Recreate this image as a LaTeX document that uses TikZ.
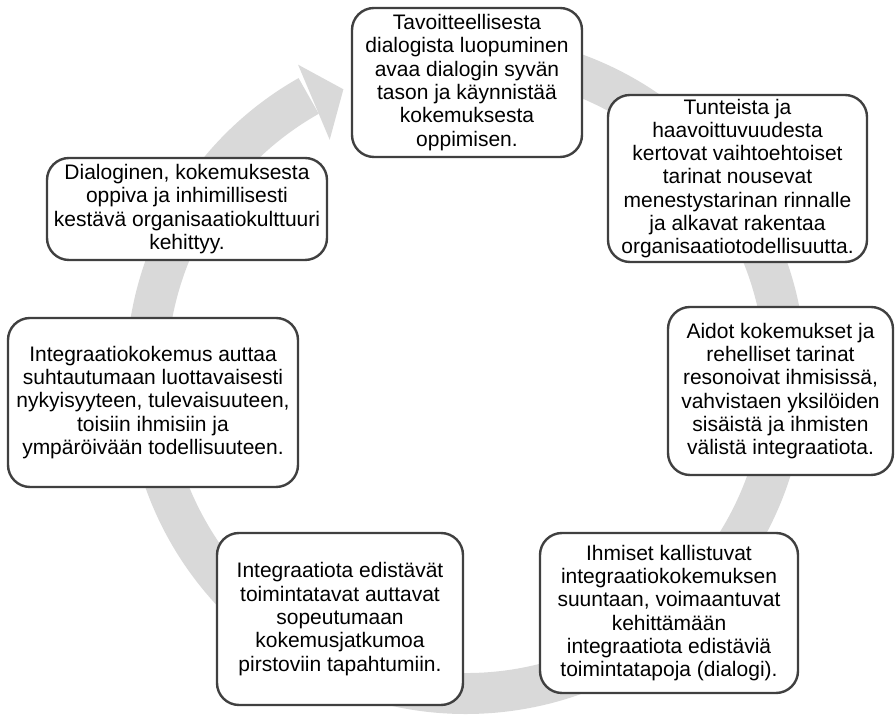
\documentclass[tikz,border=0pt]{standalone}
\usepackage{fontspec}
\setmainfont{Liberation Sans}
\begin{document}
\begin{tikzpicture}[x=1pt,y=1pt,
  stage/.style={draw=boxline, line width=2.4pt, fill=white, rounded corners=22pt,
    align=center, inner sep=0pt, text=black,
    font=\fontsize{21pt}{23.3pt}\selectfont},
]
\definecolor{boxline}{HTML}{404040}
\definecolor{ring}{HTML}{D9D9D9}
\useasboundingbox (0,0) rectangle (895,717);

% circular arrow running clockwise behind the stages
\begin{scope}[shift={(466,343)}]
  \fill[ring] (95:340) arc[start angle=95, end angle=-240.5, radius=340]
      -- (-240.5:299) arc[start angle=-240.5, end angle=95, radius=299] -- cycle;
  \fill[ring] (120.2:271) -- (118.5:352) -- (113.3:310) -- cycle;
\end{scope}

% stages of the cycle
\node[stage, minimum width=230pt, minimum height=149pt] (s1) at (467,634.5)
  {Tavoitteellisesta\\dialogista luopuminen\\avaa dialogin syvän\\tason ja käynnistää\\kokemuksesta\\oppimisen.};
\node[stage, minimum width=259pt, minimum height=167pt] (s2) at (737.5,538.5)
  {Tunteista ja\\haavoittuvuudesta\\kertovat vaihtoehtoiset\\tarinat nousevat\\menestystarinan rinnalle\\ja alkavat rakentaa\\organisaatiotodellisuutta.};
\node[stage, minimum width=225pt, minimum height=168pt] (s3) at (780.5,326)
  {Aidot kokemukset ja\\rehelliset tarinat\\resonoivat ihmisissä,\\vahvistaen yksilöiden\\sisäistä ja ihmisten\\välistä integraatiota.};
\node[stage, minimum width=258pt, minimum height=160pt] (s4) at (669,104)
  {Ihmiset kallistuvat\\integraatiokokemuksen\\suuntaan, voimaantuvat\\kehittämään\\integraatiota edistäviä\\toimintatapoja (dialogi).};
\node[stage, minimum width=246pt, minimum height=172pt] (s5) at (340,98)
  {Integraatiota edistävät\\toimintatavat auttavat\\sopeutumaan\\kokemusjatkumoa\\pirstoviin tapahtumiin.};
\node[stage, minimum width=290pt, minimum height=169pt] (s6) at (153,314.5)
  {Integraatiokokemus auttaa\\suhtautumaan luottavaisesti\\nykyisyyteen, tulevaisuuteen,\\toisiin ihmisiin ja\\ympäröivään todellisuuteen.};
\node[stage, minimum width=280pt, minimum height=102pt] (s7) at (187,508)
  {Dialoginen, kokemuksesta\\oppiva ja inhimillisesti\\kestävä organisaatiokulttuuri\\kehittyy.};
\end{tikzpicture}
\end{document}
